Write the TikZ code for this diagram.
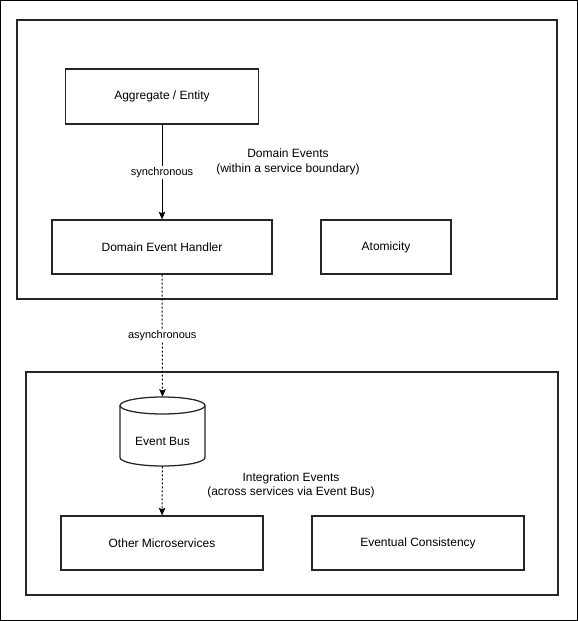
\documentclass[tikz,border=0pt]{standalone}
\usepackage{fontspec}
\setmainfont{Liberation Sans}
\usetikzlibrary{arrows.meta}
\begin{document}
\begin{tikzpicture}[x=0.75pt,y=-0.75pt,
  box/.style={draw=black!85,line width=0.95pt,rectangle,inner sep=0pt,font=\fontsize{9pt}{11pt}\selectfont,align=center},
  cont/.style={draw=black!85,line width=1.1pt,rectangle,inner sep=0pt},
  lbl/.style={font=\fontsize{9pt}{11pt}\selectfont,align=center,inner sep=0pt},
  elbl/.style={font=\fontsize{8.25pt}{10pt}\selectfont,fill=white,inner sep=1pt},
  conn/.style={line width=0.75pt,-{Stealth[length=7.5pt*0.75,width=6.5pt*0.75,inset=1pt]}},
  dotconn/.style={conn,dash pattern=on 1.5pt off 1.5pt}]
\useasboundingbox (0,0) rectangle (578,621);
\draw[line width=0.75pt] (0.5,0.5) rectangle (577.5,620.5);
% containers
\node[cont,minimum width=405pt,minimum height=209.25pt] (top) at (287,159.5) {};
\node[cont,minimum width=399pt,minimum height=167.25pt] (bot) at (292,483.5) {};
% boxes
\node[box,minimum width=144.75pt,minimum height=41.25pt] (agg) at (162,96.5) {\raisebox{-1pt}{Aggregate / Entity}};
\node[box,minimum width=165pt,minimum height=40.5pt] (deh) at (162,247) {\raisebox{-1pt}{Domain Event Handler}};
\node[box,minimum width=97.5pt,minimum height=40.5pt] (atom) at (386,247) {\raisebox{-1pt}{Atomicity}};
\node[box,minimum width=151.5pt,minimum height=40.5pt] (oms) at (162,543) {\raisebox{-1pt}{Other Microservices}};
\node[box,minimum width=159pt,minimum height=40.5pt] (ec) at (418,543) {\raisebox{-1pt}{Eventual Consistency}};
% cylinder
\draw[draw=black!85,line width=0.95pt,fill=white]
  (120,405.5) -- (120,457.5) arc[start angle=180,end angle=0,x radius=42.5,y radius=8.5]
  -- (205,405.5) arc[start angle=0,end angle=-180,x radius=42.5,y radius=8.5] -- cycle;
\draw[draw=black!85,line width=0.95pt] (120,405.5) arc[start angle=180,end angle=0,x radius=42.5,y radius=8.5];
\node[inner sep=0pt,minimum width=63.75pt,minimum height=51.75pt] (bus) at (162.5,431.5) {};
\node[lbl] (buslbl) at (162.5,441) {Event Bus};
% texts
\node[lbl] (dom) at (288,162) {Domain Events\\(within a service boundary)};
\node[lbl] (intg) at (291,485.5) {Integration Events\\(across services via Event Bus)};
% connectors
\draw[conn] (agg.south) -- node[elbl,pos=0.51] {synchronous} (deh.north);
\draw[dotconn] (deh.south) -- node[elbl,pos=0.5] {asynchronous} (bus.north);
\draw[dotconn] (bus.south) -- (oms.north);
\end{tikzpicture}
\end{document}
